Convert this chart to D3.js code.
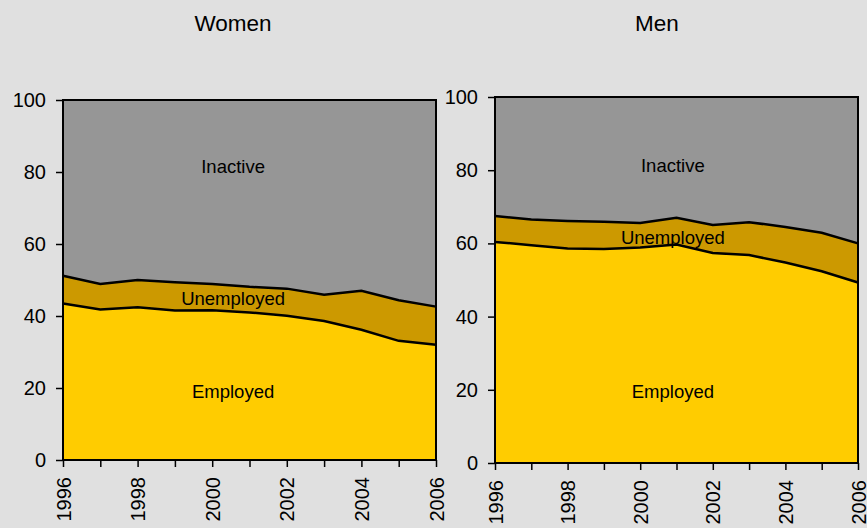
<!DOCTYPE html>
<html><head><meta charset="utf-8">
<script src="https://cdn.jsdelivr.net/npm/d3@7"></script>
<style>body{margin:0;background:#e0e0e0;} svg{display:block;font-family:"Liberation Sans",Arial,sans-serif;}</style>
</head><body>
<svg id="c" width="867" height="528"></svg>
<script>
const years = [1996,1997,1998,1999,2000,2001,2002,2003,2004,2005,2006];
const yearLabels = [1996,1998,2000,2002,2004,2006];
const yTicks = [0,20,40,60,80,100];
const womenEmployed = [43.5,41.8,42.4,41.5,41.6,41.0,40.1,38.6,36.2,33.1,32.0];
const womenUnemployed = [7.7,7.1,7.6,7.9,7.3,7.1,7.5,7.3,10.8,11.3,10.6];
const menEmployed = [60.4,59.5,58.6,58.5,58.9,59.7,57.4,56.8,54.8,52.4,49.3];
const menUnemployed = [7.1,7.0,7.5,7.4,6.7,7.3,7.6,9.0,9.7,10.5,10.7];
const colors = {Employed:"#ffcc00", Unemployed:"#cc9900", Inactive:"#969696"};

const panels = [
  {title:"Women", emp:womenEmployed, unemp:womenUnemployed, x0:63, x1:436, y0:460, y1:100, titleX:233,
   labels:[{t:"Inactive",x:2000.56,y:79.7},{t:"Unemployed",x:2000.56,y:43},{t:"Employed",x:2000.56,y:17.2}]},
  {title:"Men", emp:menEmployed, unemp:menUnemployed, x0:495, x1:858, y0:463, y1:97, titleX:657,
   labels:[{t:"Inactive",x:2000.9,y:79.5},{t:"Unemployed",x:2000.9,y:59.8},{t:"Employed",x:2000.9,y:17.8}]}
];

const svg = d3.select("#c");
panels.forEach(p => {
  const x = d3.scaleLinear().domain([1996,2006]).range([p.x0,p.x1]);
  const y = d3.scaleLinear().domain([0,100]).range([p.y0,p.y1]);
  const g = svg.append("g");
  const total = years.map((d,i)=>p.emp[i]+p.unemp[i]);
  g.append("rect").attr("x",x(1996)).attr("y",y(100)).attr("width",x(2006)-x(1996)).attr("height",y(0)-y(100)).attr("fill",colors.Inactive);
  const areaU = d3.area().x((d,i)=>x(years[i])).y0(y(0)).y1((d,i)=>y(total[i]));
  g.append("path").datum(total).attr("d",areaU).attr("fill",colors.Unemployed);
  const areaE = d3.area().x((d,i)=>x(years[i])).y0(y(0)).y1((d,i)=>y(p.emp[i]));
  g.append("path").datum(p.emp).attr("d",areaE).attr("fill",colors.Employed);
  const line = d3.line().x((d,i)=>x(years[i])).y(d=>y(d));
  g.append("path").datum(total).attr("d",line).attr("fill","none").attr("stroke","#000").attr("stroke-width",2.5);
  g.append("path").datum(p.emp).attr("d",line).attr("fill","none").attr("stroke","#000").attr("stroke-width",2.5);
  g.append("rect").attr("x",x(1996)).attr("y",y(100)).attr("width",x(2006)-x(1996)).attr("height",y(0)-y(100)).attr("fill","none").attr("stroke","#000").attr("stroke-width",2);
  const ya = g.append("g").attr("transform",`translate(${x(1996)},0)`)
    .call(d3.axisLeft(y).tickValues(yTicks).tickSize(7).tickPadding(10));
  ya.select(".domain").remove();
  ya.selectAll("line").attr("stroke","#000").attr("stroke-width",1.5);
  ya.selectAll("text").attr("font-size",20).attr("fill","#000").attr("font-family","Liberation Sans, Arial, sans-serif");
  const xa = g.append("g").attr("transform",`translate(0,${y(0)})`)
    .call(d3.axisBottom(x).tickValues(years).tickSize(7).tickFormat(d=>yearLabels.includes(d)?d:""));
  xa.select(".domain").remove();
  xa.selectAll("line").attr("stroke","#000").attr("stroke-width",1.5);
  xa.selectAll("text").attr("font-size",20).attr("fill","#000").attr("font-family","Liberation Sans, Arial, sans-serif")
    .attr("transform","rotate(-90)").attr("text-anchor","end").attr("x",-17).attr("y",0).attr("dy","0.35em");
  svg.append("text").attr("x",p.titleX).attr("y",31).attr("text-anchor","middle").attr("font-size",22.5).attr("fill","#000").text(p.title);
  p.labels.forEach(l=>{
    g.append("text").attr("x",x(l.x)).attr("y",y(l.y)).attr("text-anchor","middle").attr("font-size",18.5).attr("fill","#000").text(l.t);
  });
});
</script>
</body></html>
